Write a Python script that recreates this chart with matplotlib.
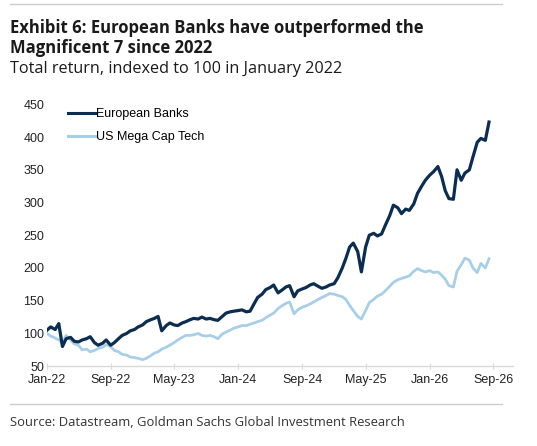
import matplotlib
matplotlib.use("Agg")
import matplotlib.pyplot as plt
import matplotlib.dates as mdates
import pandas as pd
from matplotlib.lines import Line2D

# Semi-monthly readings (1st and 15th of each month)
dates = pd.date_range("2022-01-01", periods=112, freq="SMS")

european_banks = [
    105, 110, 106, 115, 80, 92, 94, 88, 87, 90, 92, 95, 86, 82, 85, 90,
    82, 86, 92, 97, 100, 104, 106, 110, 113, 118, 121, 123, 126, 104, 112, 116,
    113, 112, 116, 118, 121, 123, 122, 125, 122, 123, 121, 120, 126, 131, 133, 134,
    135, 136, 133, 134, 145, 155, 160, 167, 170, 174, 162, 166, 171, 173, 156, 165,
    168, 170, 174, 176, 172, 169, 171, 174, 176, 185, 200, 215, 232, 238, 225, 194,
    232, 250, 253, 249, 252, 265, 280, 296, 292, 283, 290, 288, 298, 314, 325, 334,
    342, 347, 355, 340, 318, 306, 305, 350, 334, 345, 350, 370, 392, 398, 395, 423,
]

us_mega_cap_tech = [
    100, 96, 93, 90, 86, 97, 90, 84, 82, 75, 76, 72, 74, 77, 79, 83,
    80, 74, 72, 68, 67, 64, 63, 62, 60, 62, 66, 70, 72, 76, 79, 82,
    86, 90, 94, 97, 97, 98, 100, 97, 96, 97, 95, 92, 99, 102, 105, 108,
    110, 112, 112, 114, 116, 118, 120, 124, 128, 131, 138, 142, 146, 148, 130, 136,
    140, 142, 145, 148, 152, 155, 158, 161, 160, 158, 156, 152, 143, 135, 126, 122,
    135, 147, 152, 157, 160, 165, 172, 178, 182, 184, 186, 188, 195, 199, 196, 194,
    196, 193, 194, 189, 183, 173, 171, 195, 205, 215, 212, 200, 193, 207, 200, 214,
]

series_names = ["European Banks", "US Mega Cap Tech"]
series_colors = ["#0c2d52", "#a8cfe9"]

x_ticks = pd.date_range("2022-01-01", "2026-09-01", freq="8MS")
y_ticks = [50, 100, 150, 200, 250, 300, 350, 400, 450]

title_lines = [
    "Exhibit 6: European Banks have outperformed the",
    "Magnificent 7 since 2022",
]
subtitle = "Total return, indexed to 100 in January 2022"
source = "Source: Datastream, Goldman Sachs Global Investment Research"

fig = plt.figure(figsize=(5.37, 4.46), dpi=100)
ax = fig.add_axes([0.0875, 0.179, 0.868, 0.587])

ax.plot(dates, us_mega_cap_tech, color=series_colors[1], lw=2.0,
        solid_joinstyle="round", zorder=2)
ax.plot(dates, european_banks, color=series_colors[0], lw=2.3,
        solid_joinstyle="round", zorder=3)

ax.set_xlim(pd.Timestamp("2022-01-01"), pd.Timestamp("2026-11-15"))
ax.set_ylim(50, 450)
ax.set_xticks(x_ticks)
ax.xaxis.set_major_formatter(mdates.DateFormatter("%b-%y"))
ax.set_yticks(y_ticks)

for side in ["top", "right", "left"]:
    ax.spines[side].set_visible(False)
ax.spines["bottom"].set_color("#d9d9d9")
ax.spines["bottom"].set_linewidth(1.0)

ax.tick_params(axis="x", direction="inout", length=4, color="#d9d9d9",
               pad=4, labelcolor="#222222")
ax.tick_params(axis="y", length=0, pad=2, labelcolor="#222222")
for lab in ax.get_xticklabels() + ax.get_yticklabels():
    lab.set_fontfamily("Liberation Sans")
    lab.set_fontsize(9)

handles = [Line2D([], [], color=c, lw=2.2) for c in series_colors]
ax.legend(handles, series_names, loc="upper left",
          bbox_to_anchor=(0.045, 0.985), frameon=False,
          handlelength=2.2, handletextpad=0.05, labelspacing=0.85,
          borderpad=0, borderaxespad=0,
          prop={"family": "Liberation Sans", "size": 9})

# header / footer text
fig.text(0.019, 1 - 33 / 446, title_lines[0], family="Open Sans",
         weight="bold", size=12, color="#1a1a1a", va="baseline")
fig.text(0.019, 1 - 53 / 446, title_lines[1], family="Open Sans",
         weight="bold", size=12, color="#1a1a1a", va="baseline")
fig.text(0.019, 1 - 73 / 446, subtitle, family="Open Sans",
         size=11.7, color="#1a1a1a", va="baseline")
fig.text(0.019, 1 - 426 / 446, source, family="Open Sans",
         size=9.4, color="#333333", va="baseline")

for yline in [1 - 4 / 446, 1 - 404 / 446]:
    fig.add_artist(Line2D([0.019, 0.935], [yline, yline],
                          color="#cccccc", lw=1.0, transform=fig.transFigure))

fig.savefig("out.png", dpi=100, facecolor="white")
